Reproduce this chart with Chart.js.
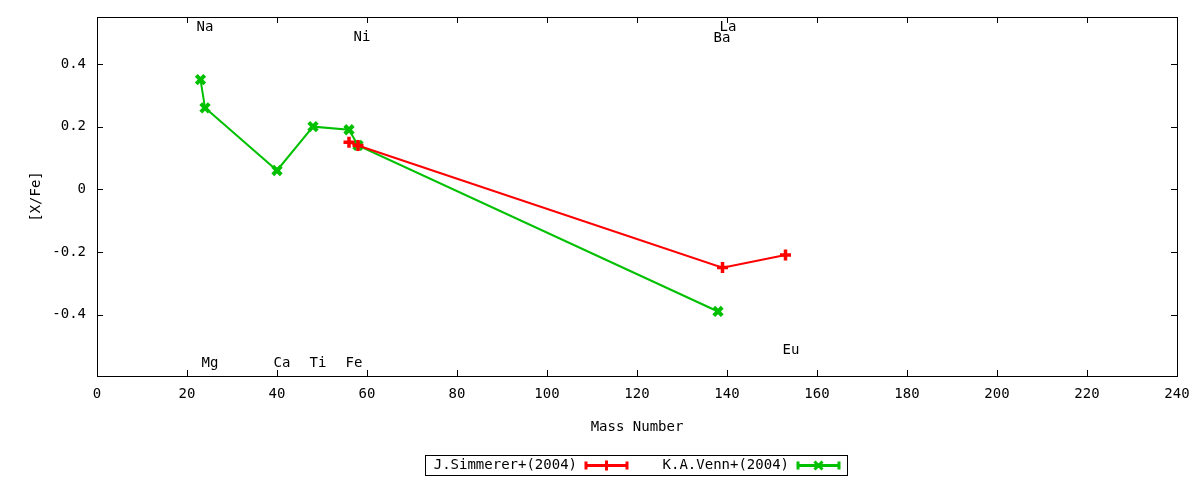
<!DOCTYPE html>
<html lang="en">
<head>
    <meta charset="UTF-8">
    <title>[X/Fe] vs Mass Number</title>
    <script src="https://cdn.jsdelivr.net/npm/chart.js"></script>
    <style>
        html, body { margin: 0; padding: 0; background: #fff; }
        #wrap { width: 1200px; height: 480px; }
    </style>
</head>
<body>
    <div id="wrap"><canvas id="abundChart" width="1200" height="480"></canvas></div>

    <script>
        const FONT = '"DejaVu Sans Mono", monospace';

        // Data
        const massTicks = [0, 20, 40, 60, 80, 100, 120, 140, 160, 180, 200, 220, 240];
        const xfeTicks = [-0.4, -0.2, 0, 0.2, 0.4];

        const simmererMass = [56, 58, 139, 153];
        const simmererXFe = [0.15, 0.14, -0.25, -0.21];

        const vennMass = [23, 24, 40, 48, 56, 58, 138];
        const vennXFe = [0.35, 0.26, 0.06, 0.20, 0.19, 0.14, -0.39];

        // element name labels (placed in data coordinates)
        const elementNames = ['Na', 'Ni', 'La', 'Ba', 'Mg', 'Ca', 'Ti', 'Fe', 'Eu'];
        const elementX = [24, 58.9, 140.2, 138.9, 25.1, 41.1, 49.1, 57.1, 154.2];
        const elementY = [0.518, 0.486, 0.518, 0.483, -0.557, -0.557, -0.557, -0.557, -0.513];

        const toPoints = (xs, ys) => xs.map((x, i) => ({ x: x, y: ys[i] }));

        // frame, inward ticks, element labels, gnuplot style legend
        const gnuplotDecor = {
            id: 'gnuplotDecor',
            afterDatasetsDraw(chart) {
                const ctx = chart.ctx;
                const a = chart.chartArea;
                const xs = chart.scales.x;
                const ys = chart.scales.y;
                ctx.save();
                ctx.strokeStyle = '#000';
                ctx.lineWidth = 1;
                ctx.strokeRect(Math.round(a.left) + 0.5, Math.round(a.top) + 0.5,
                    Math.round(a.right - a.left), Math.round(a.bottom - a.top));

                ctx.beginPath();
                massTicks.forEach(v => {
                    const px = Math.round(xs.getPixelForValue(v)) + 0.5;
                    ctx.moveTo(px, a.bottom); ctx.lineTo(px, a.bottom - 6);
                    ctx.moveTo(px, a.top); ctx.lineTo(px, a.top + 6);
                });
                xfeTicks.forEach(v => {
                    const py = Math.round(ys.getPixelForValue(v)) + 0.5;
                    ctx.moveTo(a.left, py); ctx.lineTo(a.left + 6, py);
                    ctx.moveTo(a.right, py); ctx.lineTo(a.right - 6, py);
                });
                ctx.stroke();

                ctx.fillStyle = '#000';
                ctx.font = '14px ' + FONT;
                ctx.textAlign = 'center';
                ctx.textBaseline = 'middle';
                elementNames.forEach((name, i) => {
                    ctx.fillText(name, xs.getPixelForValue(elementX[i]), ys.getPixelForValue(elementY[i]));
                });

                // legend
                const lx0 = 425.5, ly0 = 455.5, lx1 = 847.5, ly1 = 475.5;
                ctx.strokeRect(lx0, ly0, lx1 - lx0, ly1 - ly0);
                const midY = 465.5;
                const entries = [
                    { textRight: 577, s0: 585, s1: 628 },
                    { textRight: 789, s0: 797, s1: 840 }
                ];
                chart.data.datasets.forEach((ds, i) => {
                    const e = entries[i];
                    ctx.fillStyle = '#000';
                    ctx.textAlign = 'right';
                    ctx.fillText(ds.label, e.textRight, midY);
                    ctx.strokeStyle = ds.borderColor;
                    ctx.lineWidth = 3;
                    ctx.beginPath();
                    ctx.moveTo(e.s0, midY); ctx.lineTo(e.s1, midY);
                    ctx.moveTo(e.s0 + 1, midY - 4); ctx.lineTo(e.s0 + 1, midY + 4);
                    ctx.moveTo(e.s1 - 1, midY - 4); ctx.lineTo(e.s1 - 1, midY + 4);
                    ctx.stroke();
                    const cx = (e.s0 + e.s1) / 2;
                    ctx.beginPath();
                    if (ds.pointStyle === 'cross') {
                        ctx.moveTo(cx, midY - 5); ctx.lineTo(cx, midY + 5);
                    } else {
                        ctx.moveTo(cx - 4, midY - 4); ctx.lineTo(cx + 4, midY + 4);
                        ctx.moveTo(cx + 4, midY - 4); ctx.lineTo(cx - 4, midY + 4);
                    }
                    ctx.stroke();
                });
                ctx.restore();
            }
        };

        const ctx = document.getElementById('abundChart').getContext('2d');
        new Chart(ctx, {
            type: 'scatter',
            data: {
                datasets: [{
                    label: 'J.Simmerer+(2004)',
                    data: toPoints(simmererMass, simmererXFe),
                    showLine: true,
                    borderColor: '#ff0000',
                    backgroundColor: '#ff0000',
                    borderWidth: 2,
                    pointStyle: 'cross',
                    pointRadius: 5.5,
                    pointBorderWidth: 3.5
                }, {
                    label: 'K.A.Venn+(2004)',
                    data: toPoints(vennMass, vennXFe),
                    showLine: true,
                    borderColor: '#00c000',
                    backgroundColor: '#00c000',
                    borderWidth: 2,
                    pointStyle: 'crossRot',
                    pointRadius: 6,
                    pointBorderWidth: 4
                }]
            },
            options: {
                responsive: false,
                animation: false,
                events: [],
                layout: { padding: { top: 17, right: 23, bottom: 40, left: 24 } },
                plugins: {
                    legend: { display: false },
                    tooltip: { enabled: false }
                },
                scales: {
                    x: {
                        type: 'linear',
                        min: 0,
                        max: 240,
                        afterBuildTicks: s => { s.ticks = massTicks.map(v => ({ value: v })); },
                        afterFit: s => { s.height = 64; s.paddingLeft = 0; s.paddingRight = 0; },
                        grid: { display: false, drawTicks: false },
                        border: { display: false },
                        ticks: {
                            color: '#000',
                            padding: 10,
                            font: { family: FONT, size: 14 },
                            maxRotation: 0
                        },
                        title: {
                            display: true,
                            text: 'Mass Number',
                            color: '#000',
                            padding: { top: 12 },
                            font: { family: FONT, size: 14 }
                        }
                    },
                    y: {
                        type: 'linear',
                        min: -0.596,
                        max: 0.55,
                        afterBuildTicks: s => { s.ticks = xfeTicks.map(v => ({ value: v })); },
                        afterFit: s => { s.width = 73; s.paddingTop = 0; s.paddingBottom = 0; },
                        grid: { display: false, drawTicks: false },
                        border: { display: false },
                        ticks: {
                            color: '#000',
                            padding: 11,
                            font: { family: FONT, size: 14 },
                            callback: v => String(Math.round(v * 10) / 10)
                        },
                        title: {
                            display: true,
                            text: '[X/Fe]',
                            color: '#000',
                            padding: { bottom: 0 },
                            font: { family: FONT, size: 14 }
                        }
                    }
                }
            },
            plugins: [gnuplotDecor]
        });
    </script>
</body>
</html>
